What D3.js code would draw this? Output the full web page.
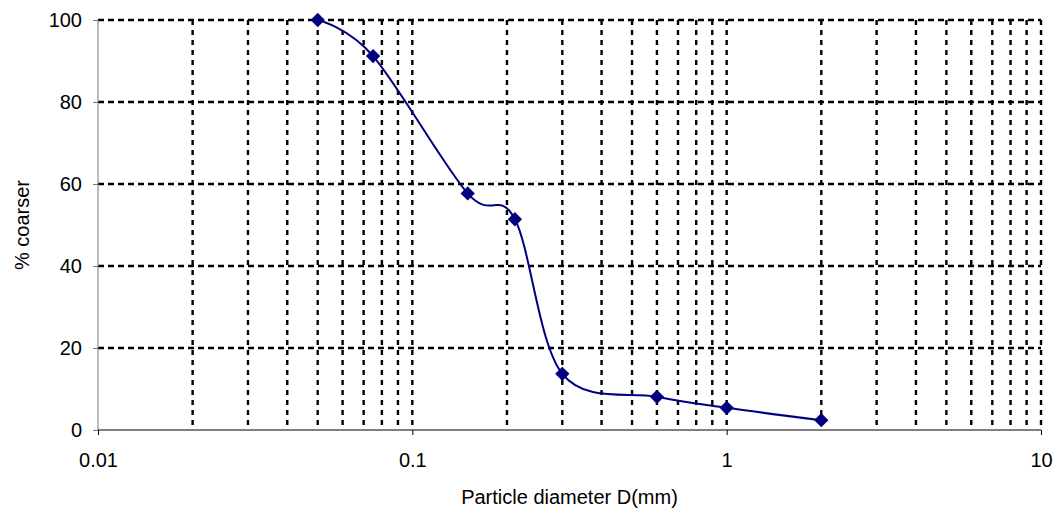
<!DOCTYPE html>
<html>
<head>
<meta charset="utf-8">
<script src="https://cdn.jsdelivr.net/npm/d3@7"></script>
<style>
  body { margin: 0; background: #fff; }
  text { font-family: "Liberation Sans", Arial, sans-serif; }
</style>
</head>
<body>
<script>
// sieve sizes (mm) and % coarser
const diameters = [0.05, 0.075, 0.15, 0.212, 0.3, 0.6, 1.0, 2.0];
const coarser = [100, 91.2, 57.7, 51.4, 13.7, 8.1, 5.4, 2.4];
const xTickValues = [0.01, 0.1, 1, 10];
const yTickValues = [0, 20, 40, 60, 80, 100];

const width = 1057, height = 518;
const plotLeft = 98, plotRight = 1041, plotTop = 20, plotBottom = 430;

const svg = d3.select("body").append("svg")
    .attr("width", width)
    .attr("height", height);

const x = d3.scaleLog().domain([0.01, 10]).range([plotLeft, plotRight]);
const y = d3.scaleLinear().domain([0, 100]).range([plotBottom, plotTop]);

// vertical grid at every log minor step except the axis itself
const vGrid = [];
[0.01, 0.1, 1].forEach(function(dec) {
    for (let k = 2; k <= 10; k++) vGrid.push(dec * k);
});

svg.append("g").selectAll("line")
    .data(vGrid)
    .enter().append("line")
    .attr("x1", d => x(d)).attr("x2", d => x(d))
    .attr("y1", plotTop).attr("y2", plotBottom)
    .attr("stroke", "#000")
    .attr("stroke-width", 2.4)
    .attr("stroke-dasharray", "5,5");

svg.append("g").selectAll("line")
    .data(yTickValues.filter(d => d > 0))
    .enter().append("line")
    .attr("x1", plotLeft).attr("x2", plotRight)
    .attr("y1", d => y(d)).attr("y2", d => y(d))
    .attr("stroke", "#000")
    .attr("stroke-width", 2.4)
    .attr("stroke-dasharray", "6,4");

// axes
const yAxis = svg.append("g")
    .attr("transform", "translate(" + plotLeft + ",0)")
    .call(d3.axisLeft(y).tickValues(yTickValues).tickSize(5).tickPadding(11));
yAxis.select(".domain").attr("stroke", "#777").attr("d", "M0," + plotTop + "V" + plotBottom);
yAxis.selectAll(".tick line").attr("stroke", "#777");
yAxis.selectAll("text").attr("font-size", 20).attr("fill", "#000")
    .attr("font-family", "Liberation Sans, Arial, sans-serif");

const xAxis = svg.append("g")
    .attr("transform", "translate(0," + plotBottom + ")")
    .call(d3.axisBottom(x).tickValues(xTickValues).tickFormat(d3.format("")).tickSize(5).tickPadding(18));
xAxis.select(".domain").attr("stroke", "#000").attr("d", "M" + plotLeft + ",0H" + plotRight);
xAxis.selectAll(".tick line").attr("stroke", "#000");
xAxis.selectAll("text").attr("font-size", 20).attr("fill", "#000")
    .attr("font-family", "Liberation Sans, Arial, sans-serif");

// smoothed line like the spreadsheet one
const pts = diameters.map((d, i) => [x(d), y(coarser[i])]);
svg.append("path")
    .attr("d", d3.line().curve(d3.curveCardinal.tension(0))(pts))
    .attr("fill", "none")
    .attr("stroke", "#000080")
    .attr("stroke-width", 2);

svg.append("g").selectAll("path")
    .data(pts)
    .enter().append("path")
    .attr("d", d3.symbol().type(d3.symbolDiamond2).size(130))
    .attr("transform", d => "translate(" + d[0] + "," + d[1] + ")")
    .attr("fill", "#000080");

// axis titles
svg.append("text")
    .attr("x", (plotLeft + plotRight) / 2)
    .attr("y", 504)
    .attr("text-anchor", "middle")
    .attr("font-size", 20)
    .text("Particle diameter D(mm)");

svg.append("text")
    .attr("transform", "translate(29," + (plotTop + plotBottom) / 2 + ") rotate(-90)")
    .attr("text-anchor", "middle")
    .attr("font-size", 20)
    .text("% coarser");
</script>
</body>
</html>
